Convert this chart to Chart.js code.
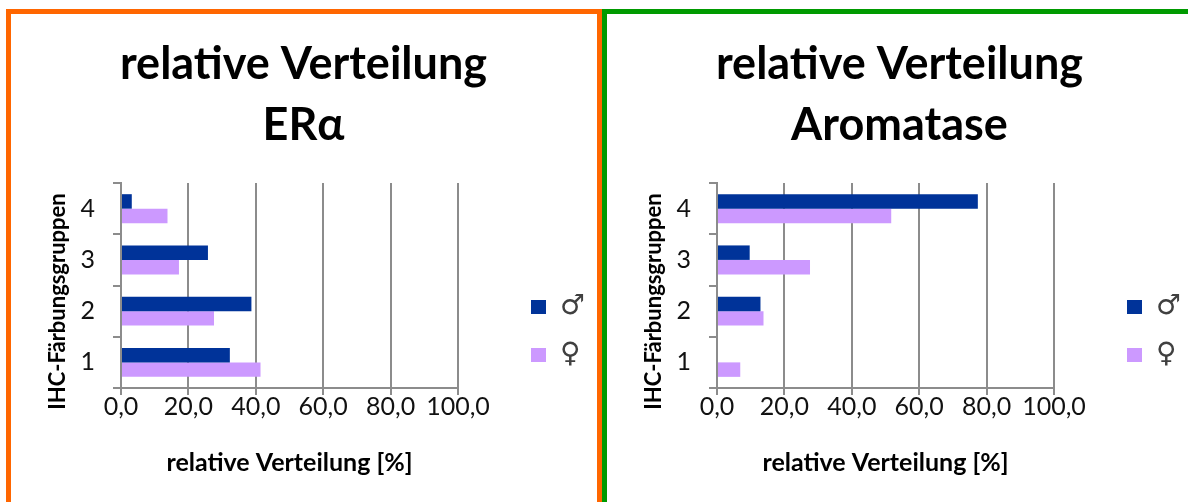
<!DOCTYPE html>
<html>
<head>
<meta charset="utf-8">
<script src="https://cdn.jsdelivr.net/npm/chart.js@4"></script>
<style>
  html, body { margin: 0; padding: 0; background: #ffffff; overflow: hidden; width: 1188px; height: 502px; }
  .frame { position: absolute; top: 9px; height: 520px; box-sizing: border-box; border: 5px solid; }
  #frameEr { left: 6px; width: 596px; border-color: #ff6600; }
  #frameAro { left: 602px; width: 600px; border-color: #009a00; }
  canvas { position: absolute; top: 14px; }
  #chartEr { left: 11px; }
  #chartAro { left: 607px; }
</style>
</head>
<body>
<div class="frame" id="frameEr"></div>
<div class="frame" id="frameAro"></div>
<canvas id="chartEr" width="585" height="488"></canvas>
<canvas id="chartAro" width="585" height="488"></canvas>
<script>
// IHC staining groups (bottom to top)
const categories = ['1', '2', '3', '4'];
const seriesNames = ['\u2642', '\u2640'];
const xTickLabels = ['0,0', '20,0', '40,0', '60,0', '80,0', '100,0'];
const xAxisTitle = 'relative Verteilung [%]';
const yAxisTitle = 'IHC-F\u00e4rbungsgruppen';

// relative distribution [%] per staining group
const erMale = [32.3, 38.7, 25.8, 3.2];
const erFemale = [41.4, 27.6, 17.2, 13.8];
const aroMale = [0.0, 12.9, 9.7, 77.4];
const aroFemale = [6.9, 13.8, 27.6, 51.7];

const maleColor = '#003399';
const femaleColor = '#cc99ff';
const axisGray = '#8c8c8c';

// shifts the right-hand legend into place beside the plot
const legendShift = {
  id: 'legendShift',
  afterLayout(chart) {
    const o = chart.options.plugins.legendShift;
    const lg = chart.legend;
    if (!lg || !o) return;
    lg.left += o.dx; lg.right += o.dx;
    lg.top += o.dy; lg.bottom += o.dy;
  }
};

// rotated category-axis title, centred a little below the plot middle
const sideTitle = {
  id: 'sideTitle',
  afterDraw(chart) {
    const o = chart.options.plugins.sideTitle;
    if (!o) return;
    const { ctx, chartArea } = chart;
    const yScale = chart.scales.y;
    ctx.save();
    ctx.translate(yScale.left + o.offsetX, (chartArea.top + chartArea.bottom) / 2 + o.offsetY);
    ctx.rotate(-Math.PI / 2);
    ctx.textAlign = 'center';
    ctx.textBaseline = 'middle';
    ctx.fillStyle = o.color;
    ctx.font = o.font;
    ctx.fillText(o.text, 0, 0);
    ctx.restore();
  }
};

function buildChart(id, titleLines, male, female) {
  // first label is drawn at the top, so feed categories top-down
  const order = [3, 2, 1, 0];
  return new Chart(document.getElementById(id), {
    type: 'bar',
    data: {
      labels: order.map(i => categories[i]),
      datasets: [
        { label: seriesNames[0], data: order.map(i => male[i]), backgroundColor: maleColor,
          categoryPercentage: 0.565, barPercentage: 1.0 },
        { label: seriesNames[1], data: order.map(i => female[i]), backgroundColor: femaleColor,
          categoryPercentage: 0.565, barPercentage: 1.0 }
      ]
    },
    plugins: [legendShift, sideTitle],
    options: {
      indexAxis: 'y',
      responsive: false,
      animation: false,
      devicePixelRatio: 1,
      layout: { padding: 0 },
      scales: {
        x: {
          min: 0, max: 100,
          ticks: {
            stepSize: 20,
            color: '#111111',
            font: { family: 'Lato', size: 25 },
            padding: -3,
            maxRotation: 0,
            callback: (v, i) => xTickLabels[i]
          },
          grid: { color: axisGray, lineWidth: 2, tickLength: 7, drawTicks: true },
          border: { color: axisGray, width: 2 },
          title: {
            display: true,
            text: xAxisTitle,
            color: '#000000',
            font: { family: 'Lato', size: 25, weight: 'bold' },
            padding: { top: 0, bottom: 24 }
          },
          afterFit(s) { s.height = 114; s.paddingRight = 138; }
        },
        y: {
          ticks: {
            color: '#111111',
            font: { family: 'Lato', size: 25 },
            padding: 18
          },
          grid: { drawOnChartArea: false, color: axisGray, lineWidth: 2, tickLength: 8, offset: true },
          border: { color: axisGray, width: 2 },
          title: { display: false },
          afterFit(s) { s.width = 110; }
        }
      },
      plugins: {
        title: {
          display: true,
          text: titleLines,
          color: '#000000',
          font: { family: 'Lato', size: 45, weight: 'bold', lineHeight: 1.356 },
          padding: { top: 20, bottom: 27 }
        },
        legend: {
          position: 'right',
          align: 'center',
          labels: {
            boxWidth: 15,
            boxHeight: 14,
            padding: 20,
            color: '#404040',
            font: { family: 'DejaVu Sans', size: 28 }
          }
        },
        legendShift: { dx: 53, dy: 73 },
        sideTitle: {
          text: yAxisTitle,
          color: '#000000',
          font: 'bold 22px Lato',
          offsetX: 47,
          offsetY: 16
        },
        tooltip: { enabled: false }
      }
    }
  });
}

buildChart('chartEr', ['relative Verteilung', 'ER\u03b1'], erMale, erFemale);
buildChart('chartAro', ['relative Verteilung', 'Aromatase'], aroMale, aroFemale);
</script>
</body>
</html>
